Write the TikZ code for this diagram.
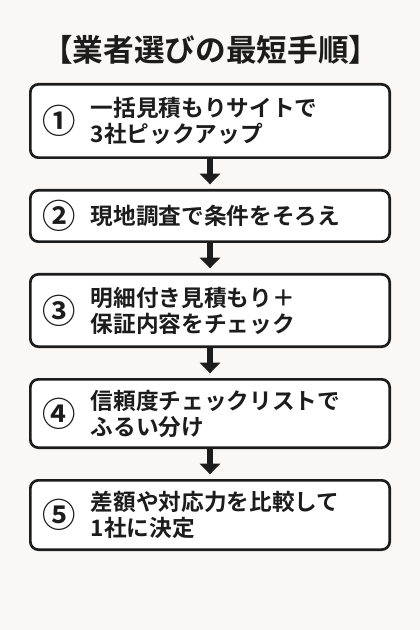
\documentclass[tikz,border=0pt]{standalone}
\usepackage{fontspec}
\usepackage{xcolor}
\usepackage{tikz}
\usetikzlibrary{arrows.meta,positioning}
\setmainfont{Noto Sans CJK JP}[BoldFont={Noto Sans CJK JP Bold}]
\definecolor{paper}{HTML}{F9F8F6}
\definecolor{ink}{HTML}{1C1C1C}

\begin{document}
\begin{tikzpicture}[
    stepbox/.style={rectangle, draw=ink, line width=2pt, fill=white, rounded corners=6pt,
                    minimum width=269.5pt, minimum height=#1, inner sep=0pt},
    stepbox/.default=52pt,
    num/.style={font=\fontsize{25}{25}\selectfont\bfseries, text=ink, inner sep=0pt},
    steptext/.style={font=\fontsize{17}{19.5}\selectfont\bfseries, text=ink, align=left,
                     anchor=west, inner sep=0pt},
    arr/.style={-{Triangle[length=8pt, width=15pt]}, line width=4.5pt, ink, shorten >=3.5pt}
]
\fill[paper] (0,0) rectangle (315pt,-472.5pt);
\useasboundingbox (0,0) rectangle (315pt,-472.5pt);

\node[font=\fontsize{23}{23}\selectfont\bfseries, text=ink] (title) at (158pt,-37.5pt)
    {【業者選びの最短手順】};

\node[stepbox=55pt] (s1) at (157.5pt,-90.75pt) {};
\node[stepbox=38.5pt, below=22.5pt of s1] (s2) {};
\node[stepbox=54.25pt, below=22.5pt of s2] (s3) {};
\node[stepbox=51.25pt, below=22.5pt of s3] (s4) {};
\node[stepbox=52pt, below=22.5pt of s4] (s5) {};

\draw[arr] (s1) -- (s2);
\draw[arr] (s2) -- (s3);
\draw[arr] (s3) -- (s4);
\draw[arr] (s4) -- (s5);

\node[num] (n1) at ([xshift=22.6pt]s1.west) {①};
\node[num] (n2) at ([xshift=22.6pt]s2.west) {②};
\node[num] (n3) at ([xshift=22.6pt]s3.west) {③};
\node[num] (n4) at ([xshift=22.6pt]s4.west) {④};
\node[num] (n5) at ([xshift=22.6pt]s5.west) {⑤};

\node[steptext] (t1) at ([xshift=46.25pt]s1.west) {一括見積もりサイトで\\3社ピックアップ};
\node[steptext] (t2) at ([xshift=46.25pt]s2.west) {現地調査で条件をそろえ};
\node[steptext] (t3) at ([xshift=46.25pt]s3.west) {明細付き見積もり＋\\保証内容をチェック};
\node[steptext] (t4) at ([xshift=46.25pt]s4.west) {信頼度チェックリストで\\ふるい分け};
\node[steptext] (t5) at ([xshift=46.25pt]s5.west) {差額や対応力を比較して\\1社に決定};
\end{tikzpicture}
\end{document}
